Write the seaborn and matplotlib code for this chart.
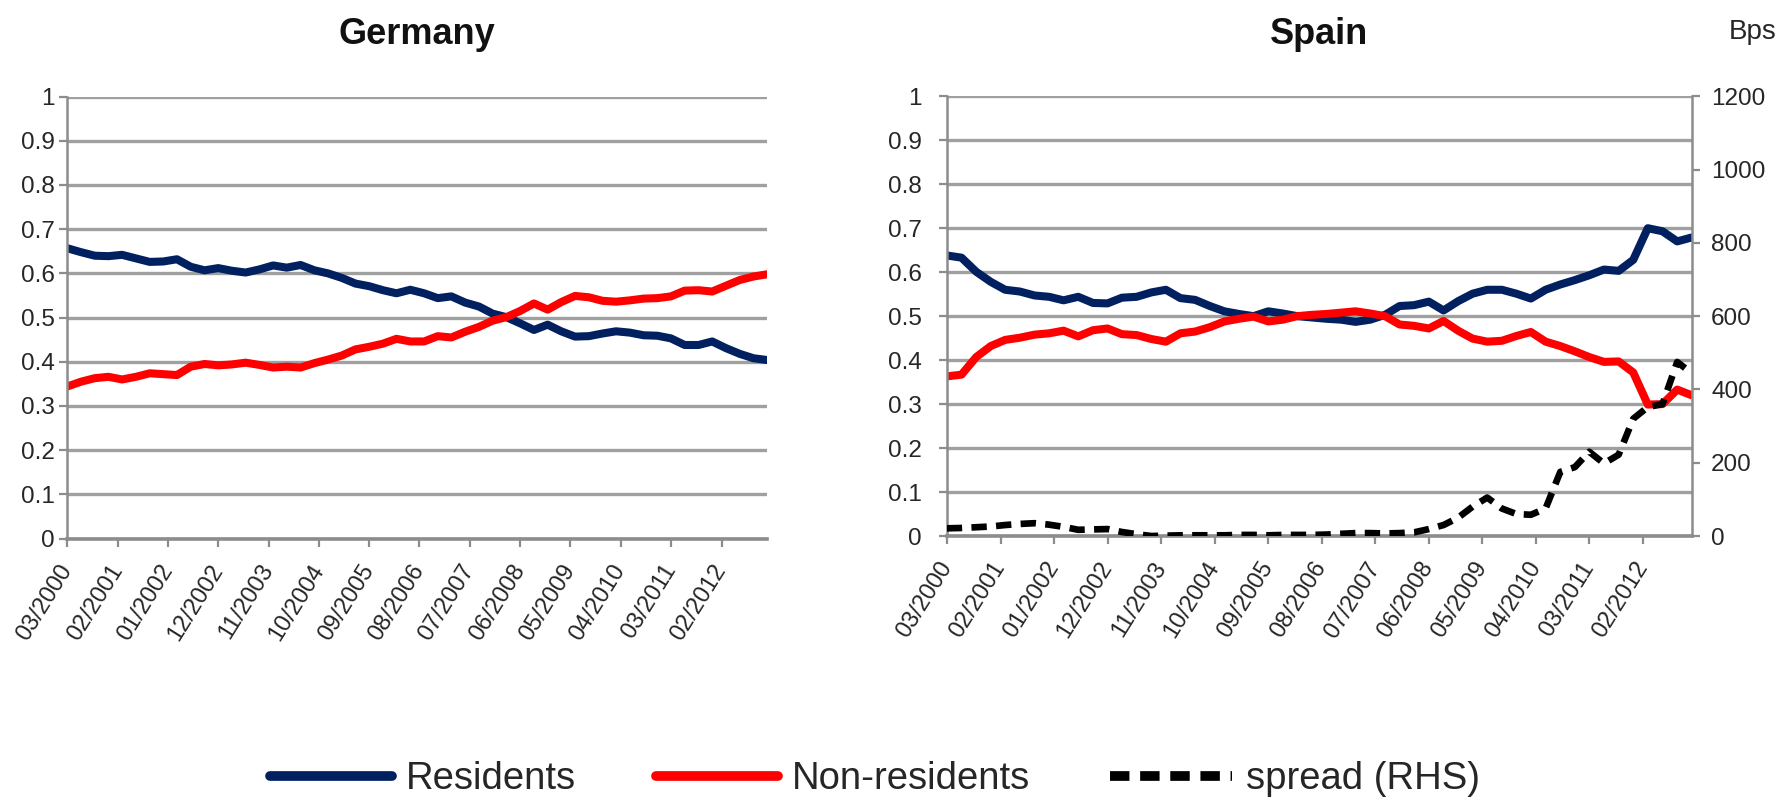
import matplotlib
matplotlib.use("Agg")
import matplotlib.pyplot as plt
import numpy as np
import pandas as pd
import seaborn as sns

# Quarterly observations, 03/2000 - 12/2012
dates = pd.date_range("2000-03-01", periods=52, freq="3MS")

germany_residents = [0.657, 0.648, 0.640, 0.639, 0.642, 0.634, 0.626, 0.627, 0.632, 0.615,
                     0.607, 0.612, 0.606, 0.602, 0.609, 0.618, 0.613, 0.619, 0.607, 0.600,
                     0.590, 0.577, 0.571, 0.562, 0.555, 0.563, 0.555, 0.544, 0.548, 0.534,
                     0.525, 0.509, 0.501, 0.487, 0.472, 0.484, 0.469, 0.457, 0.458, 0.464,
                     0.469, 0.466, 0.460, 0.459, 0.453, 0.438, 0.438, 0.446, 0.431, 0.418,
                     0.408, 0.404]
germany_nonresidents = [0.344, 0.355, 0.363, 0.366, 0.360, 0.366, 0.374, 0.372, 0.370, 0.389,
                        0.395, 0.392, 0.394, 0.398, 0.393, 0.387, 0.389, 0.387, 0.397, 0.405,
                        0.414, 0.428, 0.434, 0.441, 0.452, 0.446, 0.446, 0.458, 0.455, 0.468,
                        0.479, 0.493, 0.501, 0.515, 0.532, 0.518, 0.535, 0.549, 0.546, 0.538,
                        0.536, 0.539, 0.543, 0.544, 0.548, 0.561, 0.562, 0.559, 0.572, 0.585,
                        0.593, 0.598]
spain_residents = [0.638, 0.633, 0.601, 0.578, 0.560, 0.556, 0.547, 0.544, 0.536, 0.544,
                   0.530, 0.529, 0.542, 0.544, 0.554, 0.560, 0.541, 0.537, 0.523, 0.511,
                   0.505, 0.500, 0.511, 0.506, 0.500, 0.497, 0.494, 0.492, 0.487, 0.492,
                   0.503, 0.523, 0.525, 0.533, 0.513, 0.534, 0.551, 0.560, 0.560, 0.551,
                   0.540, 0.560, 0.572, 0.582, 0.593, 0.606, 0.603, 0.628, 0.700, 0.693,
                   0.670, 0.679]
spain_nonresidents = [0.363, 0.367, 0.407, 0.432, 0.446, 0.451, 0.458, 0.461, 0.467, 0.454,
                      0.468, 0.472, 0.459, 0.457, 0.448, 0.442, 0.461, 0.465, 0.475, 0.488,
                      0.494, 0.499, 0.488, 0.492, 0.500, 0.503, 0.505, 0.508, 0.511, 0.506,
                      0.500, 0.481, 0.478, 0.472, 0.489, 0.467, 0.449, 0.442, 0.444, 0.455,
                      0.464, 0.442, 0.432, 0.420, 0.407, 0.396, 0.397, 0.372, 0.299, 0.300,
                      0.333, 0.320]
spain_spread_bps = [21, 22, 24, 26, 30, 33, 35, 31, 25, 17,
                    18, 19, 11, 5, 0, 1, 2, 2, 2, 2,
                    3, 3, 2, 3, 3, 3, 4, 6, 8, 8,
                    7, 8, 10, 19, 30, 50, 80, 105, 75, 60,
                    58, 75, 175, 188, 230, 198, 222, 320, 352, 360,
                    475, 444]

# Axis labels every 11 months
tick_dates = pd.date_range("2000-03-01", periods=14, freq="11MS")
tick_labels = [d.strftime("%m/%Y") for d in tick_dates]
share_ticks = [0, 0.1, 0.2, 0.3, 0.4, 0.5, 0.6, 0.7, 0.8, 0.9, 1]
share_labels = ["0", "0.1", "0.2", "0.3", "0.4", "0.5", "0.6", "0.7", "0.8", "0.9", "1"]
bps_ticks = [0, 200, 400, 600, 800, 1000, 1200]

NAVY = "#002060"
RED = "#FF0000"
GRID = "#a0a0a0"
AXIS = "#8c8c8c"
TEXT = "#262626"
FONT = ["Liberation Sans", "DejaVu Sans"]

sns.set_theme(style="white")
plt.rcParams["font.family"] = FONT
plt.rcParams["axes.unicode_minus"] = False

fig = plt.figure(figsize=(17.78, 8.01), dpi=100)
ax_de = fig.add_axes([0.0378, 0.3276, 0.3937, 0.5518])
ax_es = fig.add_axes([0.5325, 0.3308, 0.4190, 0.5490])

x_end = pd.Timestamp("2012-12-01")


def style_axis(ax, title):
    ax.set_xlim(dates[0], x_end)
    ax.set_ylim(0, 1)
    ax.set_yticks(share_ticks)
    ax.set_yticklabels(share_labels)
    ax.set_xticks(tick_dates)
    ax.set_xticklabels(tick_labels, rotation=58, ha="right", va="center",
                       rotation_mode="anchor")
    ax.grid(axis="y", color=GRID, linewidth=2.4)
    ax.grid(axis="x", visible=False)
    ax.set_axisbelow(True)
    for side in ["top", "right"]:
        ax.spines[side].set_visible(False)
    ax.spines["left"].set_color(AXIS)
    ax.spines["left"].set_linewidth(1.8)
    ax.spines["bottom"].set_color(AXIS)
    ax.spines["bottom"].set_linewidth(2.6)
    ax.tick_params(axis="y", which="both", left=True, length=6, width=1.6,
                   color=AXIS, labelsize=17.5, pad=3, labelcolor=TEXT)
    ax.tick_params(axis="x", which="both", bottom=True, length=6, width=1.6,
                   color=AXIS, labelsize=17, pad=14, labelcolor=TEXT)
    ax.set_xlabel("")
    ax.set_ylabel("")
    ax.set_title(title, fontsize=26, fontweight="bold", pad=38, color="#111111")


# Germany
sns.lineplot(x=dates, y=germany_residents, ax=ax_de, color=NAVY, linewidth=5.8,
             legend=False)
sns.lineplot(x=dates, y=germany_nonresidents, ax=ax_de, color=RED, linewidth=5.8,
             legend=False)
style_axis(ax_de, "Germany")

# Spain, with sovereign spread on a secondary axis
sns.lineplot(x=dates, y=spain_residents, ax=ax_es, color=NAVY, linewidth=5.8, legend=False)
sns.lineplot(x=dates, y=spain_nonresidents, ax=ax_es, color=RED, linewidth=5.8, legend=False)
style_axis(ax_es, "Spain")
ax_es.tick_params(axis="y", pad=12)

ax_bps = ax_es.twinx()
sns.lineplot(x=dates, y=spain_spread_bps, ax=ax_bps, color="black", linewidth=4.8,
             legend=False)
spread_line = ax_bps.lines[-1]
spread_line.set_dashes((2.3, 1.4))
spread_line.set_dash_capstyle("butt")
ax_bps.set_ylim(0, 1200)
ax_bps.set_yticks(bps_ticks)
ax_bps.set_yticklabels([str(v) for v in bps_ticks])
ax_bps.grid(False)
ax_bps.set_ylabel("")
for side in ["top", "left", "bottom"]:
    ax_bps.spines[side].set_visible(False)
ax_bps.spines["right"].set_color(AXIS)
ax_bps.spines["right"].set_linewidth(1.8)
ax_bps.tick_params(axis="y", right=True, length=6, width=1.6, color=AXIS,
                   labelsize=17.5, pad=8, labelcolor=TEXT)
ax_bps.set_xlim(dates[0], x_end)

fig.text(0.986, 0.96, "Bps", fontsize=20, ha="center", va="center", color=TEXT)

# Shared legend along the bottom
handles = [
    plt.Line2D([], [], color=NAVY, linewidth=7),
    plt.Line2D([], [], color=RED, linewidth=7),
    plt.Line2D([], [], color="black", linewidth=7, dashes=(2.0, 1.1),
               dash_capstyle="butt"),
]
fig.legend(handles, ["Residents", "Non-residents", "spread (RHS)"], loc="center",
           bbox_to_anchor=(0.492, 0.027), ncol=3, frameon=False, fontsize=27.5,
           handlelength=3.2, handletextpad=0.35, columnspacing=2.1)

fig.savefig("out.png", dpi=100, facecolor="white")
